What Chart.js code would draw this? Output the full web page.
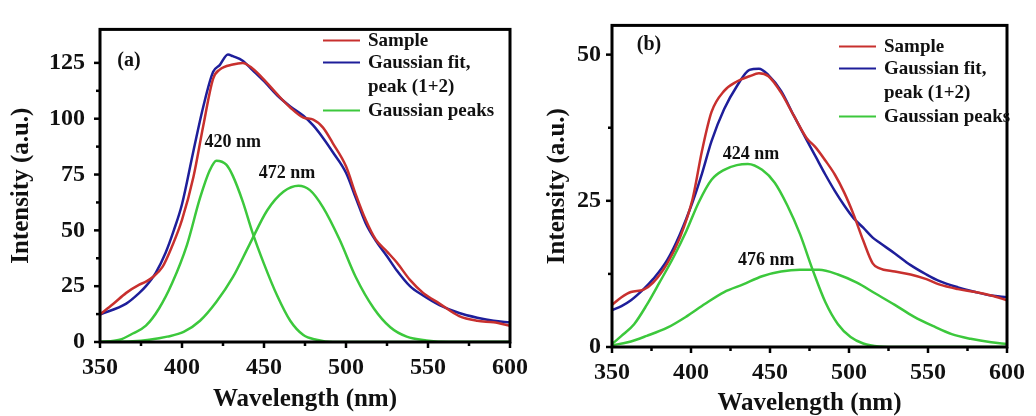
<!DOCTYPE html>
<html>
<head>
<meta charset="utf-8">
<script src="https://cdn.jsdelivr.net/npm/chart.js@4"></script>
<style>
  body { margin: 0; background: #fff; width: 1036px; height: 416px; overflow: hidden; position: relative; }
  canvas { position: absolute; top: 0; }
  #chartA { left: 0; }
  #chartB { left: 520px; }
</style>
</head>
<body>
<canvas id="chartA" width="540" height="416"></canvas>
<canvas id="chartB" width="516" height="416"></canvas>
<script>
// axis ticks
const xTicks = [350, 400, 450, 500, 550, 600];
const yTicksA = [0, 25, 50, 75, 100, 125];
const yTicksB = [0, 25, 50];

// panel (a)
const xSampleA = [350, 358, 366, 374, 378, 382, 388, 394, 400, 407, 413, 419, 423, 431, 437, 443, 450, 458, 466, 474, 480, 486, 492, 500, 506, 512, 518, 525, 531, 539, 547, 557, 569, 580, 590, 600];
const ySampleA = [12.3, 17, 22, 25.7, 27, 29, 33.5, 43, 54.7, 74, 97, 118, 122, 124.3, 125, 122.5, 117.5, 111, 105, 100.5, 99.6, 96, 89, 78.7, 66, 54.7, 46, 40.5, 35.6, 27.8, 22, 17.2, 11.6, 9.5, 8.8, 7.3];
const xFitA = [350, 366, 374, 378, 384, 390, 395, 400, 407, 413, 419, 423, 428, 431, 437, 443, 450, 458, 466, 474, 480, 486, 492, 500, 506, 512, 518, 525, 531, 539, 547, 557, 569, 580, 590, 600];
const yFitA = [12.3, 17.2, 22, 25, 31, 40, 50, 61.7, 85.7, 105.5, 121, 124, 128.8, 128, 126, 121.8, 116.8, 110.5, 105.5, 101.3, 97, 91.4, 85, 75.8, 64.5, 53.2, 45.5, 38.4, 32, 25, 20.8, 16.5, 13, 10.9, 9.5, 8.8];
const xPeak1A = [350, 362, 370, 378, 386, 394, 403, 411, 417, 421, 427, 431, 437, 443, 450, 458, 466, 474, 482, 492, 600];
const yPeak1A = [0, 1, 3.8, 7.3, 15, 26.4, 43.4, 64.5, 77, 81.2, 79.4, 74.4, 63, 49, 35, 20.8, 9.5, 3.1, 1, 0, 0];
const xPeak2A = [350, 370, 380, 391, 401, 411, 421, 431, 441, 452, 462, 471, 478, 486, 496, 506, 517, 527, 537, 549, 563, 600];
const yPeak2A = [0, 0.3, 1, 2.4, 4.5, 9.5, 18, 29, 43.4, 59, 67.4, 70, 68, 60.3, 46, 29, 15, 6.6, 2.4, 0.7, 0, 0];

// panel (b)
const xSampleB = [350, 356, 362, 370, 376, 385, 393, 401, 407, 413, 421, 429, 437, 443, 449, 457, 465, 473, 479, 485, 491, 497, 503, 509, 515, 519, 529, 539, 549, 557, 569, 580, 590, 600];
const ySampleB = [7.2, 8.5, 9.4, 9.8, 11, 14.3, 18.7, 25.3, 33.6, 40.2, 43.8, 45.4, 46.3, 46.8, 46.3, 43.5, 39.6, 35.8, 34.1, 31.9, 29.5, 26.4, 22.6, 18.2, 14.3, 13.5, 12.9, 12.4, 11.6, 10.7, 9.9, 9.4, 8.8, 8];
const yFitB = [6.3, 7, 8, 9.9, 11.6, 14.9, 19.3, 24.8, 29.7, 35.2, 40.7, 44.6, 47.4, 47.6, 46.5, 43.8, 39.6, 35.5, 32.5, 29.5, 26.7, 24.2, 22, 20.4, 18.7, 17.9, 16, 14, 12.4, 11.3, 10.2, 9.4, 8.8, 8.5];
const xPeak1B = [350, 356, 364, 372, 380, 389, 397, 405, 413, 421, 429, 436, 445, 453, 461, 469, 477, 485, 493, 501, 509, 519, 533, 600];
const yPeak1B = [0.5, 1.9, 3.9, 7.2, 11, 15.4, 19.8, 24.8, 28.6, 30.3, 31.1, 31.3, 30.3, 28.1, 24.2, 19.3, 13.2, 7.7, 3.9, 1.7, 0.6, 0.1, 0, 0];
const xPeak2B = [350, 360, 372, 385, 397, 409, 421, 433, 445, 457, 469, 481, 493, 505, 517, 529, 541, 553, 565, 577, 590, 600];
const yPeak2B = [0.3, 0.8, 1.9, 3.3, 5.2, 7.4, 9.4, 10.7, 12.1, 12.9, 13.2, 13.2, 12.4, 11, 9.1, 7.2, 5.2, 3.6, 2.2, 1.4, 0.8, 0.5];

const legendRows = ['Sample', 'Gaussian fit,', 'peak (1+2)', 'Gaussian peaks'];

const SERIF = '"Liberation Serif", "Times New Roman", serif';
const RED = '#c8302e';
const BLUE = '#1e1e9a';
const GREEN = '#3cc83c';

function pts(xs, ys) {
    return xs.map((x, i) => ({ x: x, y: ys[i] }));
}

function line(label, data, color) {
    return {
        label: label,
        data: data,
        borderColor: color,
        borderWidth: 2.5,
        pointRadius: 0,
        fill: false,
        cubicInterpolationMode: 'monotone'
    };
}

// frame, outward ticks, legend and labels
const decor = {
    id: 'decor',
    afterDatasetsDraw(chart, args, opts) {
        const { ctx, chartArea: a, scales: { x, y } } = chart;
        ctx.save();
        ctx.strokeStyle = '#000';
        ctx.lineWidth = 2.5;
        const yt = opts.yTicks;
        const tick = (x1, y1, x2, y2) => { ctx.beginPath(); ctx.moveTo(x1, y1); ctx.lineTo(x2, y2); ctx.stroke(); };
        xTicks.forEach((v, i) => {
            const px = x.getPixelForValue(v);
            tick(px, a.bottom, px, a.bottom + 6);
            if (i < xTicks.length - 1) {
                const mx = x.getPixelForValue((v + xTicks[i + 1]) / 2);
                tick(mx, a.bottom, mx, a.bottom + 4);
            }
        });
        yt.forEach((v, i) => {
            const py = y.getPixelForValue(v);
            tick(a.left, py, a.left - 6, py);
            if (i < yt.length - 1) {
                const my = y.getPixelForValue((v + yt[i + 1]) / 2);
                tick(a.left, my, a.left - 4, my);
            }
        });
        ctx.lineWidth = 3;
        ctx.strokeRect(a.left, a.top, a.right - a.left, a.bottom - a.top);

        ctx.fillStyle = '#111';
        ctx.textAlign = 'center';
        ctx.textBaseline = 'middle';
        ctx.font = 'bold 20px ' + SERIF;
        ctx.fillText(opts.panel, a.left + opts.panelPos[0], a.top + opts.panelPos[1]);

        ctx.font = 'bold 18px ' + SERIF;
        opts.peaks.forEach(p => ctx.fillText(p.text, x.getPixelForValue(p.x), y.getPixelForValue(p.y)));

        // legend
        const lx = a.left + opts.legend[0];
        const ly = a.top + opts.legend[1];
        const offs = [0, 22, 46, 70];
        const cols = [RED, BLUE, null, GREEN];
        ctx.textAlign = 'left';
        ctx.font = 'bold 19px ' + SERIF;
        legendRows.forEach((t, i) => {
            const ry = ly + offs[i];
            if (cols[i]) {
                ctx.strokeStyle = cols[i];
                ctx.lineWidth = 2;
                tick(lx, ry, lx + 37, ry);
            }
            ctx.fillText(t, lx + 45, ry + 1);
        });
        ctx.restore();
    }
};

function makeChart(id, datasets, yMax, yTicks, dims, decorOpts) {
    const tickFont = { family: SERIF, size: 24, weight: 'bold' };
    const titleFont = { family: SERIF, size: 25, weight: 'bold' };
    return new Chart(document.getElementById(id), {
        type: 'line',
        data: { datasets: datasets },
        plugins: [decor],
        options: {
            responsive: false,
            animation: false,
            devicePixelRatio: 1,
            layout: { padding: { left: 0, right: dims.right, top: 14, bottom: 0 } },
            plugins: {
                legend: { display: false },
                tooltip: { enabled: false },
                decor: decorOpts
            },
            scales: {
                x: {
                    type: 'linear',
                    min: 350,
                    max: 600,
                    afterBuildTicks: s => { s.ticks = xTicks.map(v => ({ value: v })); },
                    afterFit: s => { s.height = dims.xHeight; },
                    grid: { display: false, drawTicks: false },
                    border: { display: false },
                    ticks: { font: tickFont, color: '#111', padding: 11, maxRotation: 0 },
                    title: { display: true, text: 'Wavelength (nm)', font: titleFont, color: '#111', padding: { top: 0, bottom: dims.xTitlePad } }
                },
                y: {
                    min: 0,
                    max: yMax,
                    afterBuildTicks: s => { s.ticks = yTicks.map(v => ({ value: v })); },
                    afterFit: s => { s.width = dims.yWidth; },
                    grid: { display: false, drawTicks: false },
                    border: { display: false },
                    ticks: { font: tickFont, color: '#111', padding: dims.yPad },
                    title: { display: true, text: 'Intensity (a.u.)', font: titleFont, color: '#111', padding: { top: dims.yTitlePad, bottom: 0 } }
                }
            }
        }
    });
}

makeChart('chartA', [
    line('Gaussian peaks', pts(xPeak1A, yPeak1A), GREEN),
    line('Gaussian peaks', pts(xPeak2A, yPeak2A), GREEN),
    line('Sample', pts(xSampleA, ySampleA), RED),
    line('Gaussian fit, peak (1+2)', pts(xFitA, yFitA), BLUE)
], 140, yTicksA,
    { right: 30, xHeight: 74, yWidth: 100, yPad: 15, xTitlePad: 1, yTitlePad: 7 },
    {
        yTicks: yTicksA,
        panel: '(a)', panelPos: [29, 31],
        legend: [223, 11],
        peaks: [{ text: '420 nm', x: 431, y: 89.4 }, { text: '472 nm', x: 464, y: 75.4 }]
    });

makeChart('chartB', [
    line('Gaussian peaks', pts(xPeak1B, yPeak1B), GREEN),
    line('Gaussian peaks', pts(xPeak2B, yPeak2B), GREEN),
    line('Sample', pts(xSampleB, ySampleB), RED),
    line('Gaussian fit, peak (1+2)', pts(xSampleB, yFitB), BLUE)
], 55, yTicksB,
    { right: 9, xHeight: 69, yWidth: 92, yPad: 11, xTitlePad: -3, yTitlePad: 23 },
    {
        yTicks: yTicksB,
        panel: '(b)', panelPos: [37, 19],
        legend: [227, 21],
        peaks: [{ text: '424 nm', x: 438, y: 32.9 }, { text: '476 nm', x: 447.6, y: 14.8 }]
    });
</script>
</body>
</html>
